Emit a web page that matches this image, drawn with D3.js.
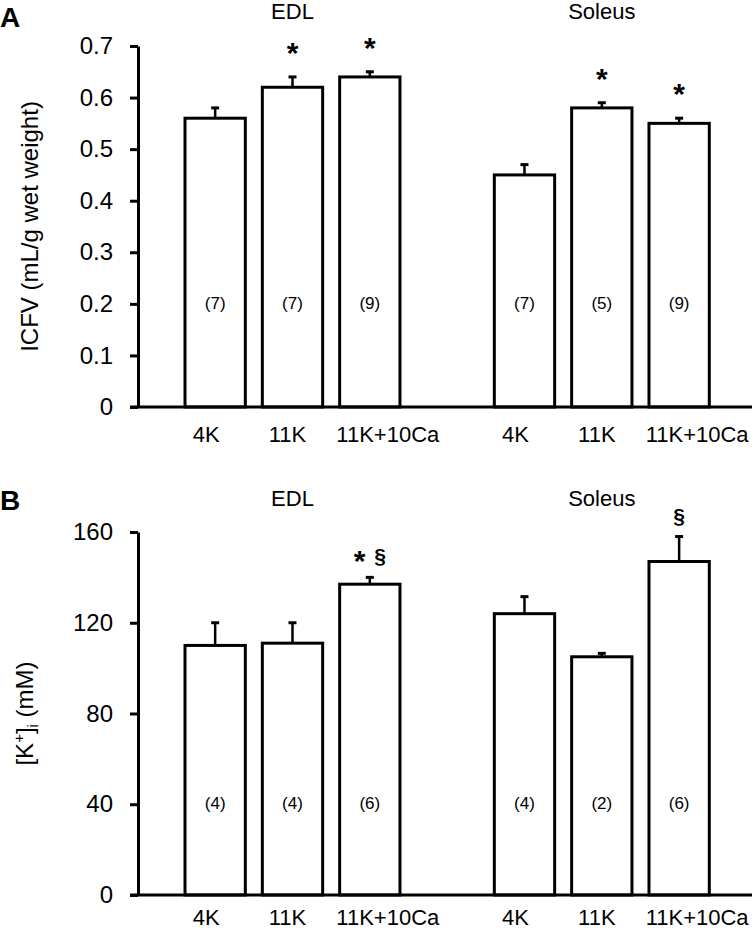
<!DOCTYPE html>
<html>
<head>
<meta charset="utf-8">
<script src="https://cdn.jsdelivr.net/npm/d3@7/dist/d3.min.js"></script>
<style>
  html, body { margin: 0; padding: 0; background: #fff; }
  svg { display: block; }
  text { font-family: "Liberation Sans", Arial, Helvetica, sans-serif; fill: #000; }
</style>
</head>
<body>
<svg id="chart" width="756" height="930"></svg>
<script>
// ---------- data ----------
const groups = ["EDL", "Soleus"];
const conditions = ["4K", "11K", "11K+10Ca"];

// Panel A: ICFV (mL/g wet weight)
const icfvMean = [0.56, 0.62, 0.64, 0.45, 0.58, 0.55];
const icfvSem  = [0.02, 0.02, 0.01, 0.02, 0.01, 0.01];
const icfvN    = [7, 7, 9, 7, 5, 9];
const icfvMarks = ["", "*", "*", "", "*", "*"];
const icfvTicks = [0, 0.1, 0.2, 0.3, 0.4, 0.5, 0.6, 0.7];

// Panel B: [K+]i (mM)
const kMean = [110, 111, 137, 124, 105, 147];
const kSem  = [10, 9, 3, 7.5, 1.5, 11];
const kN    = [4, 4, 6, 4, 2, 6];
const kMarks = ["", "", "* §", "", "", "§"];
const kTicks = [0, 40, 80, 120, 160];

// ---------- layout ----------
const svg = d3.select("#chart");
const font = "'Liberation Sans', Arial, Helvetica, sans-serif";
const labelShift = { "4K": -9, "11K": -5, "11K+10Ca": 18 };

// slot keys: 3 EDL, empty spacer, 3 Soleus
const slots = [];
groups.forEach((g, gi) => {
  conditions.forEach(c => slots.push(g + "|" + c));
  if (gi < groups.length - 1) slots.push("gap");
});
const rows = [];
groups.forEach((g, gi) => conditions.forEach((c, ci) => rows.push({ g, c, key: g + "|" + c, i: gi * conditions.length + ci })));

const x = d3.scaleBand().domain(slots).range([176.5, 717.8]).paddingInner(0.22).paddingOuter(0.11);

function panel(opt) {
  const y = d3.scaleLinear().domain(opt.domain).range([opt.y0, opt.y1]);
  const g = svg.append("g");
  const data = rows.map(r => ({ ...r, mean: opt.mean[r.i], sem: opt.sem[r.i], n: opt.n[r.i], mark: opt.marks[r.i] }));

  // panel letter
  g.append("text").attr("x", 0).attr("y", opt.letterY)
    .attr("font-size", 28).attr("font-weight", "bold").text(opt.letter);

  // bars
  g.selectAll("rect.bar").data(data).join("rect")
    .attr("class", "bar")
    .attr("x", d => x(d.key))
    .attr("width", x.bandwidth())
    .attr("y", d => y(d.mean))
    .attr("height", d => y(0) - y(d.mean))
    .attr("fill", "#fff").attr("stroke", "#000").attr("stroke-width", 3);

  // error bars
  const eb = g.selectAll("g.err").data(data).join("g").attr("class", "err");
  eb.append("line")
    .attr("x1", d => x(d.key) + x.bandwidth() / 2).attr("x2", d => x(d.key) + x.bandwidth() / 2)
    .attr("y1", d => y(d.mean)).attr("y2", d => y(d.mean + d.sem))
    .attr("stroke", "#000").attr("stroke-width", 2.5);
  eb.append("line")
    .attr("x1", d => x(d.key) + x.bandwidth() / 2 - 4).attr("x2", d => x(d.key) + x.bandwidth() / 2 + 4)
    .attr("y1", d => y(d.mean + d.sem)).attr("y2", d => y(d.mean + d.sem))
    .attr("stroke", "#000").attr("stroke-width", 3);

  // n labels
  g.selectAll("text.n").data(data).join("text").attr("class", "n")
    .attr("x", d => x(d.key) + x.bandwidth() / 2)
    .attr("y", y(opt.nAt))
    .attr("dy", "0.3em")
    .attr("text-anchor", "middle").attr("font-size", 17)
    .text(d => "(" + d.n + ")");

  // significance marks
  g.selectAll("text.mark").data(data.filter(d => d.mark)).join("text").attr("class", "mark")
    .attr("x", d => x(d.key) + x.bandwidth() / 2)
    .attr("y", d => y(d.mean + d.sem) - opt.markGap)
    .attr("text-anchor", "middle").attr("font-weight", "bold")
    .each(function (d) {
      const t = d3.select(this);
      d.mark.split(" ").forEach((m, k) => {
        t.append("tspan")
          .attr("font-size", m === "*" ? 30 : 21)
          .attr("dx", k > 0 ? 9 : 0)
          .attr("dy", m === "*" ? 8 : (k > 0 ? -8 : 0))
          .text(m);
      });
    });

  // y axis
  const ya = g.append("g").attr("transform", "translate(138,0)")
    .call(d3.axisLeft(y).tickValues(opt.ticks).tickFormat(opt.fmt).tickSize(8).tickSizeOuter(0).tickPadding(17));
  ya.select(".domain").attr("stroke", "#000").attr("stroke-width", 3);
  ya.selectAll(".tick line").attr("stroke", "#000").attr("stroke-width", 3);
  ya.selectAll(".tick text").attr("font-size", 24).attr("font-family", font).attr("fill", "#000");

  // x axis baseline
  g.append("line").attr("x1", 130).attr("x2", 752).attr("y1", y(0)).attr("y2", y(0))
    .attr("stroke", "#000").attr("stroke-width", 3);

  // category labels
  g.selectAll("text.cat").data(data).join("text").attr("class", "cat")
    .attr("x", d => x(d.key) + x.bandwidth() / 2 + labelShift[d.c])
    .attr("y", y(0) + opt.catGap)
    .attr("text-anchor", "middle").attr("font-size", 22)
    .text(d => d.c);

  // group labels
  g.selectAll("text.grp").data(groups).join("text").attr("class", "grp")
    .attr("x", gr => x(gr + "|" + conditions[1]) + x.bandwidth() / 2)
    .attr("y", opt.groupY)
    .attr("text-anchor", "middle").attr("font-size", 22)
    .text(gr => gr);

  // y title
  const yt = g.append("text")
    .attr("transform", `translate(${opt.titleX},${(opt.y0 + opt.y1) / 2}) rotate(-90)`)
    .attr("text-anchor", "middle").attr("font-size", 24);
  opt.title(yt);
}

panel({
  letter: "A", letterY: 27,
  domain: [0, 0.7], y0: 407, y1: 46,
  mean: icfvMean, sem: icfvSem, n: icfvN, marks: icfvMarks,
  ticks: icfvTicks, fmt: d => d === 0 ? "0" : d3.format(".1f")(d),
  nAt: 0.2, markGap: 22, catGap: 35, groupY: 19, titleX: 38,
  title: t => t.text("ICFV (mL/g wet weight)")
});

panel({
  letter: "B", letterY: 510,
  domain: [0, 160], y0: 895, y1: 532,
  mean: kMean, sem: kSem, n: kN, marks: kMarks,
  ticks: kTicks, fmt: d3.format("d"),
  nAt: 40, markGap: 14, catGap: 30, groupY: 506, titleX: 33,
  title: t => {
    t.append("tspan").text("[K");
    t.append("tspan").attr("font-size", 15).attr("dy", -9).text("+");
    t.append("tspan").attr("dy", 9).text("]");
    t.append("tspan").attr("font-size", 15).attr("dy", 5).text("i");
    t.append("tspan").attr("dy", -5).text(" (mM)");
  }
});
</script>
</body>
</html>
